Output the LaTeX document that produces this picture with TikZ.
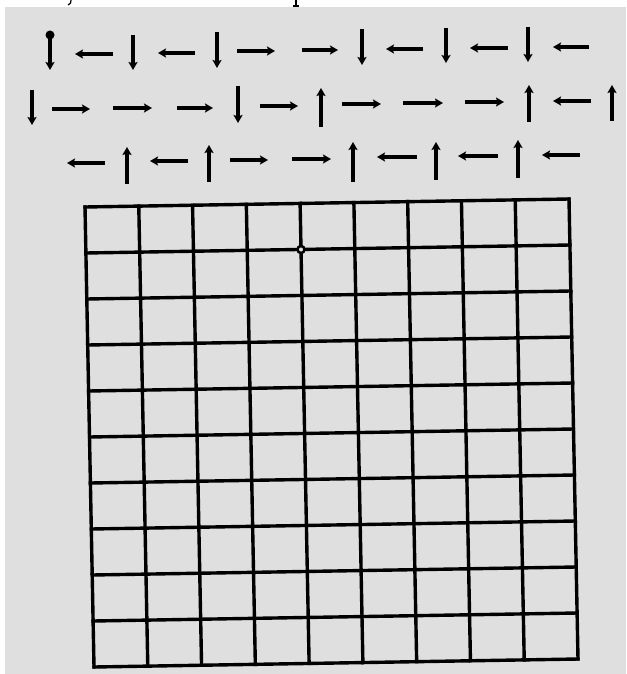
\documentclass[tikz,border=0pt]{standalone}
\usetikzlibrary{arrows.meta}
\definecolor{bg}{RGB}{223,223,223}
\tikzset{
  arr/.style={line width=3.6pt, -{Stealth[length=8pt,width=9pt,inset=1.5pt]}},
  gridline/.style={line width=3.4pt, line cap=rect},
}
\begin{document}
\begin{tikzpicture}[x=1pt,y=-1pt]
\useasboundingbox (0,0) rectangle (626,674);
\fill[white] (0,0) rectangle (626,674);
\fill[bg] (5,7) rectangle (626,674);
% cut-off fragments of text above
\draw[line width=1.2pt] (71,0) .. controls (71,3) .. (68,5);
\draw[line width=1.8pt] (296,0) -- (296,6);
\draw[line width=1.2pt] (293,6) -- (299,6);
% row 1
\fill (50,35) circle (4.5);
\draw[arr] (50,35) -- (50,70);
\draw[arr] (113,54) -- (75,54);
\draw[arr] (133,35) -- (133,70);
\draw[arr] (195,53) -- (158,53);
\draw[arr] (217,32) -- (217,68);
\draw[arr] (237,51) -- (275,51);
\draw[arr] (302,50) -- (338,50);
\draw[arr] (362,29) -- (362,65);
\draw[arr] (423,49) -- (386,49);
\draw[arr] (446,28) -- (446,63);
\draw[arr] (508,48) -- (470,48);
\draw[arr] (528,27) -- (528,62);
\draw[arr] (589,47) -- (553,47);
% row 2
\draw[arr] (32,90) -- (32,125);
\draw[arr] (52,109) -- (90,109);
\draw[arr] (113,108) -- (152,108);
\draw[arr] (177,108) -- (213,108);
\draw[arr] (238,86) -- (238,123);
\draw[arr] (260,106) -- (298,106);
\draw[arr] (321,127) -- (321,88);
\draw[arr] (342,104) -- (381,104);
\draw[arr] (403,103) -- (443,103);
\draw[arr] (465,102) -- (504,102);
\draw[arr] (529,122) -- (529,85);
\draw[arr] (591,101) -- (553,101);
\draw[arr] (612,121) -- (612,85);
% row 3
\draw[arr] (105,163) -- (67,163);
\draw[arr] (127,184) -- (127,147);
\draw[arr] (188,161) -- (150,161);
\draw[arr] (209,182) -- (209,145);
\draw[arr] (230,160) -- (268,160);
\draw[arr] (292,159) -- (331,159);
\draw[arr] (353,182) -- (353,142);
\draw[arr] (417,157) -- (377,157);
\draw[arr] (436,180) -- (436,142);
\draw[arr] (498,156) -- (458,156);
\draw[arr] (518,178) -- (518,140);
\draw[arr] (580,155) -- (542,155);
% grid
\foreach \i in {0,...,9} {
  \draw[gridline] ({85+\i*484/9},{207-\i*8/9}) -- ({94+\i*484/9},{667-\i*8/9});
}
\foreach \j in {0,...,10} {
  \draw[gridline] ({85+\j*0.9},{207+\j*46}) -- ({569+\j*0.9},{199+\j*46});
}
\coordinate (dot) at (301,249.5);
\draw[line width=2.5pt, fill=bg] (dot) circle (3.5);
\end{tikzpicture}
\end{document}
